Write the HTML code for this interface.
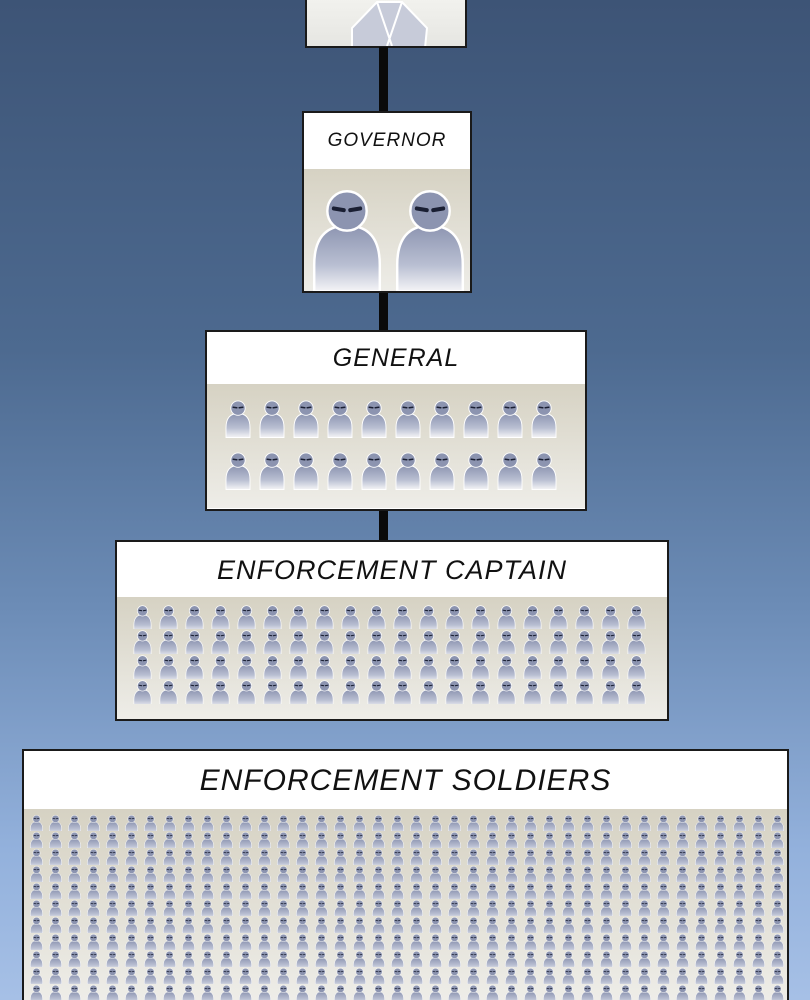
<!DOCTYPE html>
<html><head><meta charset="utf-8"><style>
html,body{margin:0;padding:0;width:810px;height:1000px;overflow:hidden}
body{background:linear-gradient(180deg,#3d5476 0%,#4d6a90 35%,#6b8bb5 60%,#93b1dc 85%,#a6c0e6 100%);position:relative;font-family:"Liberation Sans",sans-serif}
.bar{position:absolute;background:#0a0a0a;width:9px;left:379px}
.box{position:absolute;border:2px solid #1a1a1a;background:#fff;box-sizing:border-box;overflow:hidden}
.hd{background:#fff;border-bottom:2px solid #1a1a1a;box-sizing:border-box;display:flex;align-items:center;justify-content:center;font-style:italic;letter-spacing:1px;color:#111}
.bd{position:absolute;left:0;right:0;bottom:0}
svg{display:block}
</style></head><body>
<svg width="0" height="0" style="position:absolute">
<defs>
<linearGradient id="bg" x1="0" y1="0" x2="0" y2="1"><stop offset="0" stop-color="#d6d2c3"/><stop offset="1" stop-color="#eeede8"/></linearGradient>
<linearGradient id="fg" x1="0" y1="0" x2="0" y2="1"><stop offset="0" stop-color="#8d95b1"/><stop offset="0.6" stop-color="#b9bfd2"/><stop offset="1" stop-color="#f4f4f6"/></linearGradient>
<symbol id="p" viewBox="0 0 100 130">
<path d="M10 130 L10 98 Q10 50 50 50 Q90 50 90 98 L90 130 Z" fill="url(#fg)" stroke="#fff" stroke-width="3"/>
<circle cx="50" cy="32" r="24" fill="#8c94b0" stroke="#fff" stroke-width="3"/>
<path d="M34 29 L46 31 M54 31 L66 29" stroke="#1a1f33" stroke-width="5" stroke-linecap="round"/>
</symbol>
<pattern id="pg" x="221" y="393" width="34" height="52" patternUnits="userSpaceOnUse"><use href="#p" x="2" y="2" width="30" height="46"/></pattern>
<pattern id="pc" x="130" y="604" width="26" height="25" patternUnits="userSpaceOnUse"><use href="#p" x="1" y="0" width="23" height="28"/></pattern>
<pattern id="ps" x="27" y="814" width="19" height="17" patternUnits="userSpaceOnUse"><use href="#p" x="1" y="0" width="17" height="20"/></pattern>
</defs></svg>

<div class="box" style="left:305px;top:-4px;width:162px;height:52px;background:linear-gradient(#f2f2ee,#e6e6e2)">
<svg width="160" height="50"><path d="M45 50 L45 30 L70 4 L95 4 L120 30 L118 50 Z" fill="#c7cbd9" stroke="#fff" stroke-width="2"/><path d="M70 4 L85 48 M95 4 L80 48" stroke="#fff" stroke-width="2"/></svg>
</div>
<div class="bar" style="top:47px;height:66px"></div>
<div class="bar" style="top:290px;height:42px"></div>
<div class="bar" style="top:508px;height:34px"></div>

<div class="box" style="left:302px;top:111px;width:170px;height:182px">
<div class="hd" style="height:58px;font-size:19px">GOVERNOR</div>
<div class="bd" style="top:56px;">
<svg width="166" height="124"><rect width="166" height="124" fill="url(#bg)"/>
<use href="#p" x="2" y="14" width="82" height="110"/><use href="#p" x="85" y="14" width="82" height="110"/></svg></div>
</div>

<div class="box" style="left:205px;top:330px;width:382px;height:181px">
<div class="hd" style="height:54px;font-size:25px">GENERAL</div>
</div>

<div class="box" style="left:115px;top:540px;width:554px;height:181px">
<div class="hd" style="height:58px;font-size:27px">ENFORCEMENT CAPTAIN</div>
</div>
<div class="box" style="left:22px;top:749px;width:767px;height:270px">
<div class="hd" style="height:62px;font-size:30px">ENFORCEMENT SOLDIERS</div>
</div>

<svg width="810" height="1000" style="position:absolute;left:0;top:0;pointer-events:none">
<rect x="117" y="597" width="550" height="122" fill="url(#bg)"/>
<rect x="128" y="604" width="524" height="100" fill="url(#pc)"/>
<rect x="24" y="809" width="763" height="191" fill="url(#bg)"/>
<rect x="26" y="814" width="760" height="186" fill="url(#ps)"/>
<rect x="207" y="384" width="378" height="124" fill="url(#bg)"/>
<rect x="221" y="393" width="340" height="104" fill="url(#pg)"/>
</svg>
</body></html>
